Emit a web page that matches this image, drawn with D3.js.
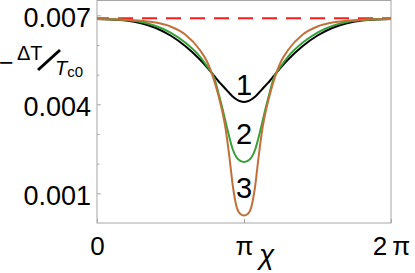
<!DOCTYPE html>
<html>
<head>
<meta charset="utf-8">
<script src="https://cdn.jsdelivr.net/npm/d3@7"></script>
<style>
  html, body { margin: 0; padding: 0; background: #fff; }
  svg { display: block; }
  text { font-family: "Liberation Sans", Arial, sans-serif; fill: #000; }
</style>
</head>
<body>
<div id="chart"></div>
<script>
(function () {
  // chi in units of pi (0 .. 2)
  var chiOverPi = [0, 0.1, 0.2, 0.3, 0.4, 0.5, 0.6, 0.7, 0.75, 0.8, 0.825, 0.85, 0.875, 0.9, 0.925, 0.95, 0.975,
    1.0, 1.025, 1.05, 1.075, 1.1, 1.125, 1.15, 1.175, 1.2, 1.25, 1.3, 1.4, 1.5, 1.6, 1.7, 1.8, 1.9, 2.0];

  var curve1 = [0.006876, 0.006863, 0.006822, 0.006731, 0.006573, 0.006320, 0.005966, 0.005511, 0.005242, 0.004938, 0.004787, 0.004652, 0.004517, 0.004382, 0.004254, 0.004163, 0.004102,
    0.004079, 0.004102, 0.004163, 0.004254, 0.004382, 0.004517, 0.004652, 0.004787, 0.004938, 0.005242, 0.005511, 0.005966, 0.006320, 0.006573, 0.006731, 0.006822, 0.006863, 0.006876];

  var curve2 = [0.006876, 0.006866, 0.006836, 0.006775, 0.006640, 0.006421, 0.006084, 0.005612, 0.005275, 0.004854, 0.004399, 0.003927, 0.003405, 0.002899, 0.002461, 0.002208, 0.002090,
    0.002056, 0.002090, 0.002208, 0.002461, 0.002899, 0.003405, 0.003927, 0.004399, 0.004854, 0.005275, 0.005612, 0.006084, 0.006421, 0.006640, 0.006775, 0.006836, 0.006866, 0.006876];

  var curve3 = [0.006876, 0.006870, 0.006853, 0.006816, 0.006755, 0.006624, 0.006354, 0.005831, 0.005427, 0.004753, 0.004315, 0.003809, 0.003169, 0.002258, 0.001213, 0.000539, 0.000303,
    0.000253, 0.000303, 0.000539, 0.001213, 0.002258, 0.003169, 0.003809, 0.004315, 0.004753, 0.005427, 0.005831, 0.006354, 0.006624, 0.006755, 0.006816, 0.006853, 0.006870, 0.006876];

  var refLevel = 0.00690;

  var yMajor = [0.001, 0.004, 0.007];
  var yMinor = [0.002, 0.003, 0.005, 0.006];
  var xTicks = [0, 1, 2];             // in units of pi
  var xTickLabels = ["0", "\u03c0", "2\u2009\u03c0"];
  var curveLabels = ["1", "2", "3"];
  var labelValues = [0.00465, 0.00303, 0.00118];

  var W = 415, H = 273;
  var left = 97, right = 391, top = 0.5, bottom = 223;

  var x = d3.scaleLinear().domain([0, 2]).range([left, right]);
  var y = d3.scaleLinear().domain([0, 0.0075]).range([bottom, top]);

  var svg = d3.select("#chart").append("svg")
    .attr("width", W).attr("height", H);

  // frame
  svg.append("rect")
    .attr("x", left).attr("y", top)
    .attr("width", right - left).attr("height", bottom - top)
    .attr("fill", "none").attr("stroke", "#a6a6a6").attr("stroke-width", 1);

  // y axis (major)
  var yAxis = svg.append("g")
    .attr("transform", "translate(" + left + ",0)")
    .call(d3.axisLeft(y).tickValues(yMajor).tickSizeInner(-4).tickSizeOuter(0).tickPadding(6)
      .tickFormat(d3.format(".3f")));
  yAxis.select(".domain").remove();
  yAxis.selectAll("line").attr("stroke", "#a6a6a6");
  yAxis.selectAll("text")
    .attr("dy", "0.40em")
    .style("font-size", "27px");

  // y axis (minor)
  var yMin = svg.append("g")
    .attr("transform", "translate(" + left + ",0)")
    .call(d3.axisLeft(y).tickValues(yMinor).tickSizeInner(-2.5).tickSizeOuter(0).tickFormat(""));
  yMin.select(".domain").remove();
  yMin.selectAll("line").attr("stroke", "#a6a6a6");

  // x axis
  var xAxis = svg.append("g")
    .attr("transform", "translate(0," + bottom + ")")
    .call(d3.axisBottom(x).tickValues(xTicks).tickSizeInner(-4).tickSizeOuter(0).tickPadding(14)
      .tickFormat(function (d, i) { return xTickLabels[i]; }));
  xAxis.select(".domain").remove();
  xAxis.selectAll("line").attr("stroke", "#a6a6a6");
  xAxis.selectAll("text").style("font-size", "26px");

  // x axis title (chi)
  svg.append("text")
    .attr("x", 259).attr("y", 264)
    .style("font-size", "28px").style("font-style", "italic")
    .text("\u03c7");

  // y axis title: -ΔT / T_c0
  svg.append("text")
    .attr("x", -1).attr("y", 71)
    .style("font-size", "25px")
    .text("\u2212");
  svg.append("text")
    .attr("x", 17).attr("y", 60)
    .style("font-size", "20px")
    .text("\u0394T");
  svg.append("line")
    .attr("x1", 38).attr("y1", 70).attr("x2", 60).attr("y2", 50)
    .attr("stroke", "#000").attr("stroke-width", 3);
  var tc = svg.append("text").attr("x", 55).attr("y", 74.5).style("font-size", "20px");
  tc.append("tspan").style("font-style", "italic").text("T");
  tc.append("tspan").attr("dy", 2).style("font-size", "15px").text("c0");

  var pts = function (vals) {
    return vals.map(function (v, i) { return [chiOverPi[i], v]; });
  };

  var line = d3.line()
    .x(function (d) { return x(d[0]); })
    .y(function (d) { return y(d[1]); })
    .curve(d3.curveMonotoneX);

  // red dashed reference line
  svg.append("line")
    .attr("x1", x(0)).attr("x2", x(2))
    .attr("y1", y(refLevel)).attr("y2", y(refLevel))
    .attr("stroke", "#ff1a1a").attr("stroke-width", 2)
    .attr("stroke-dasharray", "15,9").attr("stroke-dashoffset", 3);

  var series = [
    { vals: curve1, color: "#000000" },
    { vals: curve2, color: "#36a036" },
    { vals: curve3, color: "#c2703a" }
  ];

  svg.selectAll("path.curve")
    .data(series)
    .enter().append("path")
    .attr("class", "curve")
    .attr("d", function (s) { return line(pts(s.vals)); })
    .attr("fill", "none")
    .attr("stroke", function (s) { return s.color; })
    .attr("stroke-width", 2);

  svg.selectAll("text.clabel")
    .data(curveLabels)
    .enter().append("text")
    .attr("class", "clabel")
    .attr("x", x(1))
    .attr("y", function (d, i) { return y(labelValues[i]); })
    .attr("text-anchor", "middle")
    .attr("dy", "0.36em")
    .style("font-size", "29px")
    .text(function (d) { return d; });
})();
</script>
</body>
</html>
